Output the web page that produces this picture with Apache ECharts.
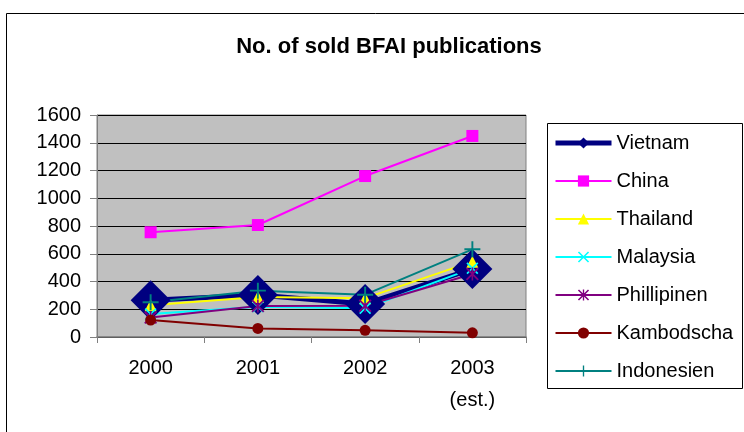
<!DOCTYPE html>
<html>
<head>
<meta charset="utf-8">
<script src="https://cdn.jsdelivr.net/npm/echarts@6/dist/echarts.min.js"></script>
<style>
  html, body { margin: 0; padding: 0; background: #fff; }
  #chart { width: 744px; height: 432px; }
</style>
</head>
<body>
<div id="chart"></div>
<script>
var years = ['2000', '2001', '2002', '2003\n(est.)'];

var vietnam = [265, 303, 238, 490];
var china = [755, 807, 1160, 1449];
var thailand = [228, 288, 280, 543];
var malaysia = [165, 218, 207, 495];
var phillipinen = [140, 223, 225, 454];
var kambodscha = [122, 62, 48, 30];
var indonesien = [250, 334, 305, 632];

var yTicks = { min: 0, max: 1600, interval: 200 };

// filled marker shapes
var xPath = 'path://M0,1 L1,0 L10,9 L9,10 Z M9,0 L10,1 L1,10 L0,9 Z';
var starPath = 'path://M0,1 L1,0 L10,9 L9,10 Z M9,0 L10,1 L1,10 L0,9 Z M4.4,0 L5.6,0 L5.6,10 L4.4,10 Z';
var plusPath = 'path://M4.4,0 L5.6,0 L5.6,4.4 L10,4.4 L10,5.6 L5.6,5.6 L5.6,10 L4.4,10 L4.4,5.6 L0,5.6 L0,4.4 L4.4,4.4 Z';

 function mkLine(name, data, color, symbol, size, width){
   return {
     name: name,
     type: 'line',
     data: data,
     symbol: symbol,
     symbolSize: size,
     showAllSymbol: true,
     lineStyle: { color: color, width: width },
     itemStyle: { color: color },
     emphasis: { disabled: true },
     animation: false
   };
 }

var chart = echarts.init(document.getElementById('chart'));
chart.setOption({
  textStyle: { fontFamily: 'Liberation Sans, Arial, sans-serif' },
  title: {
    text: 'No. of sold BFAI publications',
    left: 384,
    textAlign: 'center',
    top: 31,
    textStyle: { fontSize: 22, fontWeight: 'bold', color: '#000' }
  },
  graphic: [
    { type: 'rect', shape: { x: 6.5, y: 13.5, width: 760, height: 440 },
      style: { fill: 'none', stroke: '#000', lineWidth: 1 }, z: -1 },
    { type: 'rect', shape: { x: 547.5, y: 123.5, width: 195, height: 265 },
      style: { fill: '#fff', stroke: '#000', lineWidth: 1 }, z: -1 }
  ],
  legend: {
    orient: 'vertical',
    left: 553,
    top: 133,
    padding: 0,
    itemWidth: 56,
    itemHeight: 14,
    itemGap: 18,
    selectedMode: false,
    textStyle: { fontSize: 20, color: '#000' },
    data: [
      { name: 'Vietnam', lineStyle: { width: 5 } },
      'China', 'Thailand', 'Malaysia', 'Phillipinen', 'Kambodscha', 'Indonesien'
    ]
  },
  grid: {
    left: 97, right: 218, top: 115, bottom: 95,
    show: true,
    backgroundColor: '#C0C0C0',
    borderColor: '#808080',
    borderWidth: 1
  },
  xAxis: {
    type: 'category',
    data: years,
    boundaryGap: true,
    axisLine: { lineStyle: { color: '#808080', width: 1.5 } },
    axisTick: { show: true, length: 6, lineStyle: { color: '#808080' } },
    axisLabel: { fontSize: 20, color: '#000', margin: 15, lineHeight: 32 }
  },
  yAxis: {
    type: 'value',
    min: yTicks.min,
    max: yTicks.max,
    interval: yTicks.interval,
    axisLine: { show: true, lineStyle: { color: '#808080' } },
    axisTick: { show: true, length: 7, lineStyle: { color: '#808080' } },
    splitLine: { show: true, lineStyle: { color: '#000', width: 1 } },
    axisLabel: {
      fontSize: 20, color: '#000', margin: 16,
      formatter: function (value) {
        return value + ""
      }
    }
  },
  series: [
    mkLine('Vietnam', vietnam, '#000080', 'diamond', 40, 5),
    mkLine('China', china, '#FF00FF', 'rect', 12, 2),
    mkLine('Thailand', thailand, '#FFFF00', 'triangle', 12, 2),
    mkLine('Malaysia', malaysia, '#00FFFF', xPath, 12, 2),
    mkLine('Phillipinen', phillipinen, '#800080', starPath, 13, 2),
    mkLine('Kambodscha', kambodscha, '#800000', 'circle', 11, 2),
    mkLine('Indonesien', indonesien, '#008080', plusPath, 16, 2)
  ]
});
</script>
</body>
</html>
